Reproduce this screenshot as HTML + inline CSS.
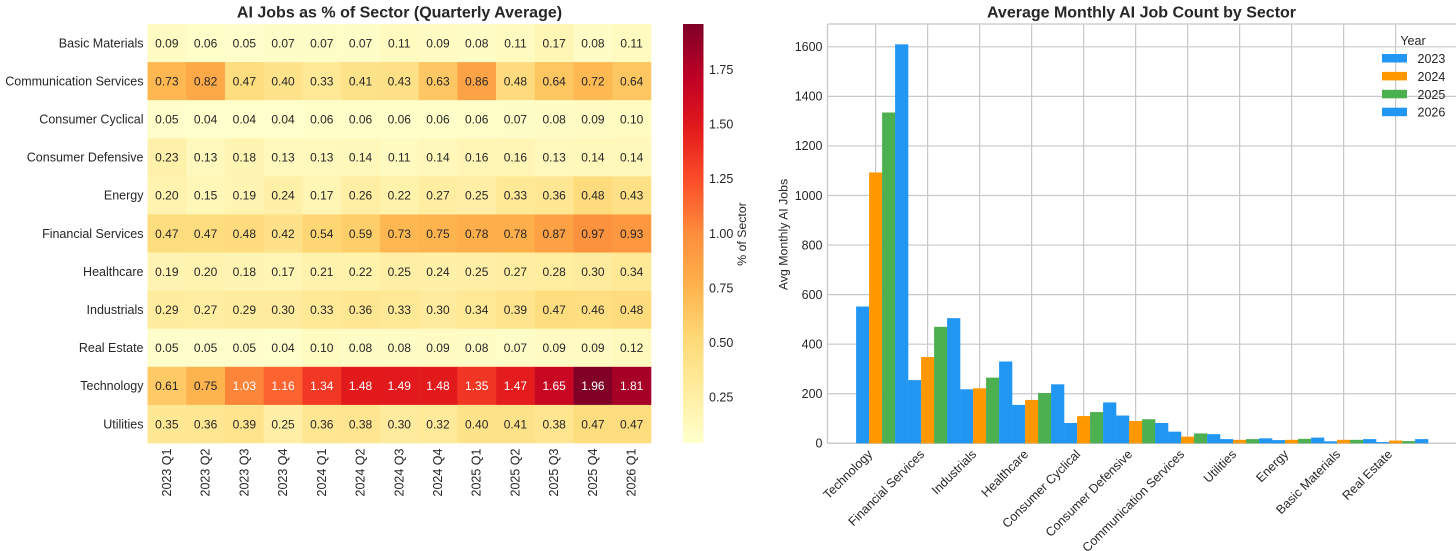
<!DOCTYPE html>
<html lang="en">
<head>
<meta charset="utf-8">
<title>AI Jobs by Sector</title>
<style>
html,body{margin:0;padding:0;background:#fff;width:1456px;height:551px;overflow:hidden}
svg{display:block}
text{font-family:"Liberation Sans",Arial,sans-serif;fill:#262626}
</style>
</head>
<body>
<svg id="chart" xmlns="http://www.w3.org/2000/svg" width="1456" height="551" viewBox="0 0 1456 551">
  <defs>
    <linearGradient id="cbar-grad" x1="0" y1="1" x2="0" y2="0">
      <stop offset="0" stop-color="#ffffcc"/>
      <stop offset="0.125" stop-color="#ffeda0"/>
      <stop offset="0.25" stop-color="#fed976"/>
      <stop offset="0.375" stop-color="#feb24c"/>
      <stop offset="0.5" stop-color="#fd8d3c"/>
      <stop offset="0.625" stop-color="#fc4e2a"/>
      <stop offset="0.75" stop-color="#e31a1c"/>
      <stop offset="0.875" stop-color="#bd0026"/>
      <stop offset="1" stop-color="#800026"/>
    </linearGradient>
  </defs>
  <text x="399.5" y="17.5" text-anchor="middle" font-size="16" font-weight="bold">AI Jobs as % of Sector (Quarterly Average)</text>
  <g id="heatmap"></g>
  <rect x="683" y="24" width="20.5" height="419" fill="url(#cbar-grad)"/>
  <g id="cbar-ticks"></g>
  <text transform="translate(746,234) rotate(-90)" text-anchor="middle" font-size="12.3">% of Sector</text>
  <text x="1141.5" y="17.5" text-anchor="middle" font-size="16" font-weight="bold">Average Monthly AI Job Count by Sector</text>
  <g id="bars-axes"></g>
  <g id="bars"></g>
  <text transform="translate(787.5,234.5) rotate(-90)" text-anchor="middle" font-size="12.3">Avg Monthly AI Jobs</text>
  <g id="legend"></g>
</svg>
<script>
// Heatmap data
const heatSectors = ["Basic Materials","Communication Services","Consumer Cyclical","Consumer Defensive","Energy","Financial Services","Healthcare","Industrials","Real Estate","Technology","Utilities"];
const heatQuarters = ["2023 Q1","2023 Q2","2023 Q3","2023 Q4","2024 Q1","2024 Q2","2024 Q3","2024 Q4","2025 Q1","2025 Q2","2025 Q3","2025 Q4","2026 Q1"];
const basicMaterials = [0.09,0.06,0.05,0.07,0.07,0.07,0.11,0.09,0.08,0.11,0.17,0.08,0.11];
const communicationServices = [0.73,0.82,0.47,0.40,0.33,0.41,0.43,0.63,0.86,0.48,0.64,0.72,0.64];
const consumerCyclical = [0.05,0.04,0.04,0.04,0.06,0.06,0.06,0.06,0.06,0.07,0.08,0.09,0.10];
const consumerDefensive = [0.23,0.13,0.18,0.13,0.13,0.14,0.11,0.14,0.16,0.16,0.13,0.14,0.14];
const energy = [0.20,0.15,0.19,0.24,0.17,0.26,0.22,0.27,0.25,0.33,0.36,0.48,0.43];
const financialServices = [0.47,0.47,0.48,0.42,0.54,0.59,0.73,0.75,0.78,0.78,0.87,0.97,0.93];
const healthcare = [0.19,0.20,0.18,0.17,0.21,0.22,0.25,0.24,0.25,0.27,0.28,0.30,0.34];
const industrials = [0.29,0.27,0.29,0.30,0.33,0.36,0.33,0.30,0.34,0.39,0.47,0.46,0.48];
const realEstate = [0.05,0.05,0.05,0.04,0.10,0.08,0.08,0.09,0.08,0.07,0.09,0.09,0.12];
const technology = [0.61,0.75,1.03,1.16,1.34,1.48,1.49,1.48,1.35,1.47,1.65,1.96,1.81];
const utilities = [0.35,0.36,0.39,0.25,0.36,0.38,0.30,0.32,0.40,0.41,0.38,0.47,0.47];
const heatRows = [basicMaterials,communicationServices,consumerCyclical,consumerDefensive,energy,financialServices,healthcare,industrials,realEstate,technology,utilities];
const cbarTicks = [0.25,0.50,0.75,1.00,1.25,1.50,1.75];

// Bar chart data
const barSectors = ["Technology","Financial Services","Industrials","Healthcare","Consumer Cyclical","Consumer Defensive","Communication Services","Utilities","Energy","Basic Materials","Real Estate"];
const barYears = ["2023","2024","2025","2026"];
const jobs2023 = [552,255,218,155,82,112,47,17,13,8,5];
const jobs2024 = [1093,348,222,175,110,90,27,14,14,14,11];
const jobs2025 = [1335,470,265,203,126,97,40,17,18,14,9];
const jobs2026 = [1610,505,330,238,165,82,37,20,23,17,17];
const barSeries = [jobs2023,jobs2024,jobs2025,jobs2026];
const yearColors = ["#2196f3","#ff9800","#4caf50","#2196f3"];
const barYTicks = [0,200,400,600,800,1000,1200,1400,1600];

const NS = "http://www.w3.org/2000/svg";
function mk(parent, tag, attrs, txt) {
  const el = document.createElementNS(NS, tag);
  for (const k in attrs) el.setAttribute(k, attrs[k]);
  if (txt !== undefined) el.textContent = txt;
  parent.appendChild(el);
  return el;
}

// Colormap
const ylOrRd = [[255,255,204],[255,237,160],[254,217,118],[254,178,76],[253,141,60],[252,78,42],[227,26,28],[189,0,38],[128,0,38]];
const vMin = 0.04, vMax = 1.96;
function colorParts(v) {
  const t = Math.max(0, Math.min(1, (v - vMin) / (vMax - vMin))) * 8;
  const i = Math.min(7, Math.floor(t));
  const f = t - i;
  return ylOrRd[i].map((c, n) => Math.round(c + (ylOrRd[i + 1][n] - c) * f));
}

// Heatmap geometry
const hmLeft = 147.5, hmRight = 651, hmTop = 24, hmBottom = 443;
const cellW = (hmRight - hmLeft) / heatQuarters.length;
const cellH = (hmBottom - hmTop) / heatSectors.length;
const hmX = i => hmLeft + i * cellW;
const hmY = i => hmTop + i * cellH;
const heat = document.getElementById("heatmap");

heatRows.forEach((row, r) => {
  const rowLabel = mk(heat, "text", {x: hmLeft - 4, y: hmY(r) + cellH / 2 + 4.3, "text-anchor": "end", "font-size": 12.5}, heatSectors[r]);
  
  
  row.forEach((v, c) => {
    const rgb = colorParts(v);
    const cell = mk(heat, "rect", {x: hmX(c), y: hmY(r), width: cellW + 0.3, height: cellH + 0.3, fill: `rgb(${rgb.join(",")})`});
    
    
    const lum = (0.2126 * Math.pow(rgb[0] / 255, 2.2) + 0.7152 * Math.pow(rgb[1] / 255, 2.2) + 0.0722 * Math.pow(rgb[2] / 255, 2.2));
    const val = mk(heat, "text", {x: hmX(c) + cellW / 2, y: hmY(r) + cellH / 2 + 4.3, "text-anchor": "middle", "font-size": 12});
    val.textContent = v.toFixed(2);
    val.style.fill = lum > 0.408 ? "#262626" : "#ffffff";
    
    
  });
});
heatQuarters.forEach((q, c) => {
  const cx = hmX(c) + cellW / 2;
  const qLabel = mk(heat, "text", {transform: `translate(${cx + 4},448.5) rotate(-90)`, "text-anchor": "end", "font-size": 12.5}, q);
  
  
});

// Colorbar ticks
const cbarY = v => hmBottom - (v - vMin) / (vMax - vMin) * (hmBottom - hmTop);
const cbarGroup = document.getElementById("cbar-ticks");
cbarTicks.forEach(v => {
  const tick = mk(cbarGroup, "text", {x: 709, y: cbarY(v) + 4.3, "font-size": 12.5}, v.toFixed(2));
  
  
});

// Bar chart geometry
const axLeft = 827.5, axRight = 1456, axTop = 24, axBase = 443.3;
const x0 = 875.6, catW = 52;
const yPerUnit = 0.2478;
const catX = i => x0 + i * catW;
const barY = v => axBase - v * yPerUnit;
const barW = catW * 0.25;
const axesG = document.getElementById("bars-axes");
const barsG = document.getElementById("bars");

barYTicks.forEach(t => {
  const y = barY(t);
  const gridY = mk(axesG, "line", {x1: axLeft, x2: axRight, y1: y, y2: y, stroke: "#c8c8c8", "stroke-width": 1.2});
  
  
  const lab = mk(axesG, "text", {x: axLeft - 5, y: y + 4.3, "text-anchor": "end", "font-size": 12.5}, String(t));
  
  
});
barSectors.forEach((s, i) => {
  const x = catX(i);
  const gridX = mk(axesG, "line", {x1: x, x2: x, y1: axTop, y2: axBase, stroke: "#c8c8c8", "stroke-width": 1.2});
  
  
  const lab = mk(axesG, "text", {transform: `translate(${x - 2.5},455) rotate(-45)`, "text-anchor": "end", "font-size": 12.5}, s);
  
  
});
const spines = [[axLeft, axTop, axRight, axTop],[axLeft, axTop, axLeft, axBase],[axLeft, axBase, axRight, axBase]];
spines.forEach(p => {
  const sp = mk(axesG, "line", {x1: p[0], y1: p[1], x2: p[2], y2: p[3], stroke: "#c8c8c8", "stroke-width": 1.3});
  
  
});

barSeries.forEach((series, j) => {
  series.forEach((v, i) => {
    const left = catX(i) + (j - 1.5) * barW;
    const bar = mk(barsG, "rect", {x: left, y: barY(v), width: barW + 0.2, height: axBase - barY(v), fill: yearColors[j]});
    
    
  });
});

// Legend
const legendG = document.getElementById("legend");
const legendTitle = mk(legendG, "text", {x: 1413, y: 45, "text-anchor": "middle", "font-size": 12.5}, "Year");


barYears.forEach((yr, j) => {
  const y = 54 + j * 17.9;
  const sw = mk(legendG, "rect", {x: 1382, y: y, width: 25, height: 8.5, fill: yearColors[j]});
  
  
  const t = mk(legendG, "text", {x: 1417.5, y: y + 9, "font-size": 12.5}, yr);
  
  
});
</script>
</body>
</html>
